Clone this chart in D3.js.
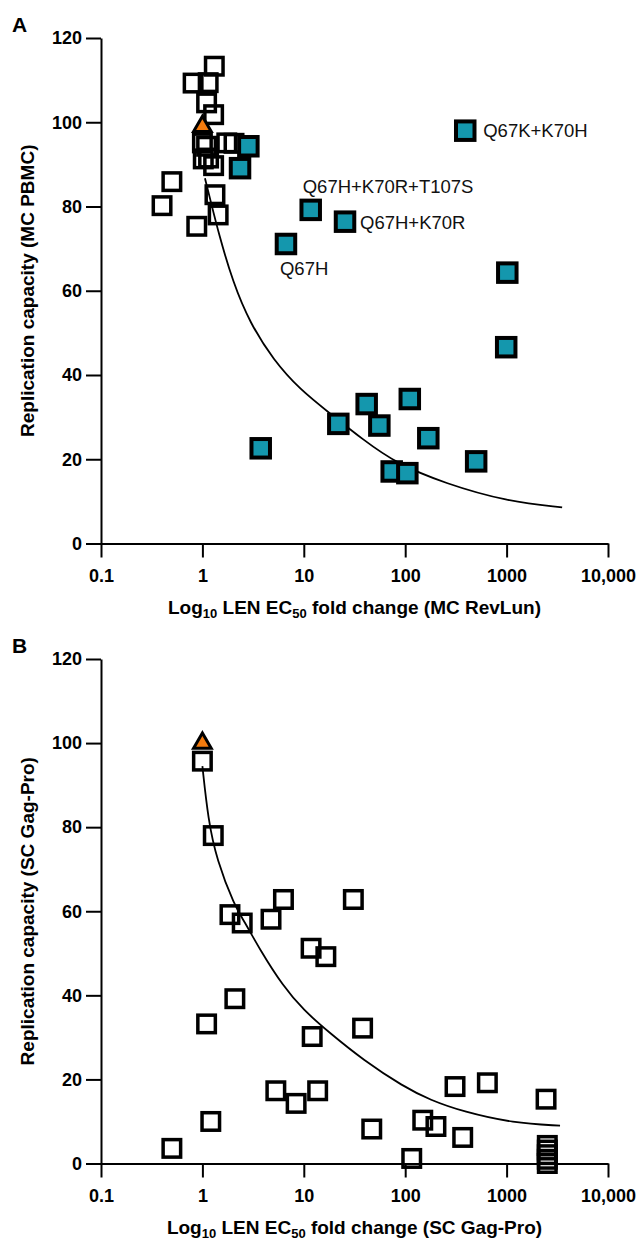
<!DOCTYPE html>
<html>
<head>
<meta charset="utf-8">
<script src="https://cdn.jsdelivr.net/npm/d3@7"></script>
<style>
	body { margin: 0; background: #fff; }
	svg { display: block; font-family: "Liberation Sans", Arial, Helvetica, sans-serif; }
</style>
</head>
<body>
<div id="chart"></div>
<script>
const WIDTH = 636;
const HEIGHT = 1240;

const xTicks = [0.1, 1, 10, 100, 1000, 10000];
const xTickLabels = ['0.1', '1', '10', '100', '1000', '10,000'];
const yTicks = [0, 20, 40, 60, 80, 100, 120];

// panel A: MC RevLun fold change vs MC PBMC replication capacity
const aOpenX = [1.31, 0.81, 1.14, 1.10, 1.29, 1.0, 1.1, 1.74, 2.05, 1.02, 1.29, 1.33, 1.43, 0.88, 0.50, 0.40, 1.15];
const aOpenY = [113.3, 109.3, 109.4, 104.6, 101.8, 95.1, 94.3, 95.1, 95.0, 91.3, 89.7, 82.8, 78.0, 75.3, 85.9, 80.2, 91.5];
const aMutX = [2.84, 2.35, 6.67, 11.7, 25.5, 391, 1016, 991, 3.76, 21.9, 41.7, 55.6, 111, 73.6, 105, 169, 501];
const aMutY = [94.3, 89.1, 71.1, 79.2, 76.4, 98.0, 64.3, 46.6, 22.6, 28.4, 33.1, 28.0, 34.3, 17.1, 16.7, 25.0, 19.5];
const aMutNames = ['', '', 'Q67H', 'Q67H+K70R+T107S', 'Q67H+K70R', 'Q67K+K70H', '', '', '', '', '', '', '', '', '', '', ''];
const aWtX = [1];
const aWtY = [99];
const aFitX = [1.06, 1.2, 1.45, 2.0, 2.95, 5, 9.2, 18.1, 38.6, 82, 250, 1000, 3530];
const aFitY = [86.7, 81.5, 73.5, 62, 52.3, 43.6, 36.5, 30.9, 24.6, 19, 14.2, 10, 8.6];

// panel B: SC Gag-Pro fold change vs SC Gag-Pro replication capacity
const bOpenX = [1.0, 1.28, 1.87, 2.47, 4.75, 6.3, 30.8, 11.8, 16.5, 2.09, 1.10, 12.1, 38.0, 5.3, 8.4, 13.7, 1.21, 0.50,
	46.8, 116, 149, 201, 369, 310, 646, 2450, 2520, 2520, 2520, 2520, 2520];
const bOpenY = [95.7, 78.0, 59.2, 57.2, 58.1, 62.8, 62.8, 51.2, 49.2, 39.2, 33.2, 30.2, 32.2, 17.3, 14.3, 17.3, 10.0, 3.6,
	8.2, 1.2, 10.3, 8.8, 6.2, 18.3, 19.2, 15.3, 4.3, 3.2, 2.1, 1.0, 0.0];
const bWtX = [1];
const bWtY = [100];
const bFitX = [1.0, 1.14, 1.38, 2.09, 2.54, 3.7, 6.28, 9.9, 18.1, 38.6, 95.8, 176, 375, 1164, 3365];
const bFitY = [94.5, 81.8, 72.3, 61.1, 58, 50.8, 42.1, 36.5, 31, 24.6, 18.3, 15.1, 12.3, 9.6, 9.0];

// label placement for the named mutants (px offset from the point)
const labelOffsets = {
	'Q67H': [-6, 31],
	'Q67H+K70R+T107S': [-8, -17],
	'Q67H+K70R': [15, 7],
	'Q67K+K70H': [18, 6]
};

const TEAL = '#1497ad';
const ORANGE = '#f47b0e';

const svg = d3.select('#chart')
	.append('svg')
	.attr('width', WIDTH)
	.attr('height', HEIGHT);

const x = d3.scaleLog().domain([0.1, 10000]).range([101, 608]);

function zip(xs, ys, names) {
	return xs.map((v, i) => ({ x: v, y: ys[i], name: names ? names[i] : '' }));
}

function drawPanel(panel) {
	const y = d3.scaleLinear().domain([0, 120]).range([panel.bottom, panel.top]);
	const g = svg.append('g');

	// panel letter
	g.append('text')
		.attr('x', 12)
		.attr('y', panel.top - 6)
		.attr('font-size', 21)
		.attr('font-weight', 'bold')
		.text(panel.letter);

	// fitted curve
	const line = d3.line()
		.x(d => x(d.x))
		.y(d => y(d.y))
		.curve(d3.curveBasis);
	g.append('path')
		.datum(zip(panel.fitX, panel.fitY))
		.attr('d', line)
		.attr('fill', 'none')
		.attr('stroke', '#000')
		.attr('stroke-width', 1.8);

	// axes
	const yAxis = g.append('g')
		.attr('transform', `translate(${x(0.1)},0)`)
		.call(d3.axisLeft(y).tickValues(yTicks).tickSize(15).tickSizeOuter(0).tickPadding(4));
	const xAxis = g.append('g')
		.attr('transform', `translate(0,${panel.bottom})`)
		.call(d3.axisBottom(x).tickValues(xTicks).tickFormat((d, i) => xTickLabels[i])
			.tickSize(14).tickSizeOuter(0).tickPadding(12));
	[yAxis, xAxis].forEach(a => {
		a.selectAll('path, line').attr('stroke', '#000').attr('stroke-width', 2);
		a.selectAll('text')
			.attr('fill', '#000')
			.attr('font-size', 18)
			.attr('font-weight', 'bold')
			.attr('font-family', '"Liberation Sans", Arial, sans-serif');
	});

	// axis titles
	const xt = g.append('text')
		.attr('x', (x.range()[0] + x.range()[1]) / 2)
		.attr('y', panel.bottom + 70)
		.attr('text-anchor', 'middle')
		.attr('font-size', 19)
		.attr('font-weight', 'bold');
	xt.append('tspan').text('Log');
	xt.append('tspan').attr('font-size', 13).attr('dy', 4).text('10');
	xt.append('tspan').attr('dy', -4).text(' LEN EC');
	xt.append('tspan').attr('font-size', 13).attr('dy', 4).text('50');
	xt.append('tspan').attr('dy', -4).text(' fold change (' + panel.xName + ')');

	g.append('text')
		.attr('transform', `translate(34,${(panel.top + panel.bottom) / 2}) rotate(-90)`)
		.attr('text-anchor', 'middle')
		.attr('font-size', 19)
		.attr('font-weight', 'bold')
		.text('Replication capacity (' + panel.yName + ')');

	// open squares
	const s = 17.5;
	g.append('g')
		.selectAll('rect.open')
		.data(zip(panel.openX, panel.openY))
		.enter()
		.append('rect')
		.classed('open', true)
		.attr('x', d => x(d.x) - s / 2)
		.attr('y', d => y(d.y) - s / 2)
		.attr('width', s)
		.attr('height', s)
		.attr('fill', 'none')
		.attr('stroke', '#000')
		.attr('stroke-width', 3.5);

	// mutants (teal)
	if (panel.mutX) {
		const m = 18.5;
		const mg = g.append('g')
			.selectAll('g.mut')
			.data(zip(panel.mutX, panel.mutY, panel.mutNames))
			.enter()
			.append('g')
			.classed('mut', true);
		mg.append('rect')
			.attr('x', d => x(d.x) - m / 2)
			.attr('y', d => y(d.y) - m / 2)
			.attr('width', m)
			.attr('height', m)
			.attr('fill', TEAL)
			.attr('stroke', '#000')
			.attr('stroke-width', 4);
		mg.filter(d => d.name)
			.append('text')
			.attr('x', d => x(d.x) + labelOffsets[d.name][0])
			.attr('y', d => y(d.y) + labelOffsets[d.name][1])
			.attr('font-size', 18.5)
			.attr('fill', '#111')
			.text(d => d.name);
	}

	// wild type
	g.append('g')
		.selectAll('path.wt')
		.data(zip(panel.wtX, panel.wtY))
		.enter()
		.append('path')
		.classed('wt', true)
		.attr('transform', d => `translate(${x(d.x)},${y(d.y)})`)
		.attr('d', d3.symbol(d3.symbolTriangle).size(135))
		.attr('fill', ORANGE)
		.attr('stroke', '#000')
		.attr('stroke-width', 3)
		.attr('stroke-linejoin', 'miter');
}

drawPanel({
	letter: 'A', top: 38, bottom: 543.5,
	xName: 'MC RevLun', yName: 'MC PBMC',
	openX: aOpenX, openY: aOpenY,
	mutX: aMutX, mutY: aMutY, mutNames: aMutNames,
	wtX: aWtX, wtY: aWtY,
	fitX: aFitX, fitY: aFitY
});

drawPanel({
	letter: 'B', top: 659, bottom: 1163.5,
	xName: 'SC Gag-Pro', yName: 'SC Gag-Pro',
	openX: bOpenX, openY: bOpenY,
	wtX: bWtX, wtY: bWtY,
	fitX: bFitX, fitY: bFitY
});
</script>
</body>
</html>
